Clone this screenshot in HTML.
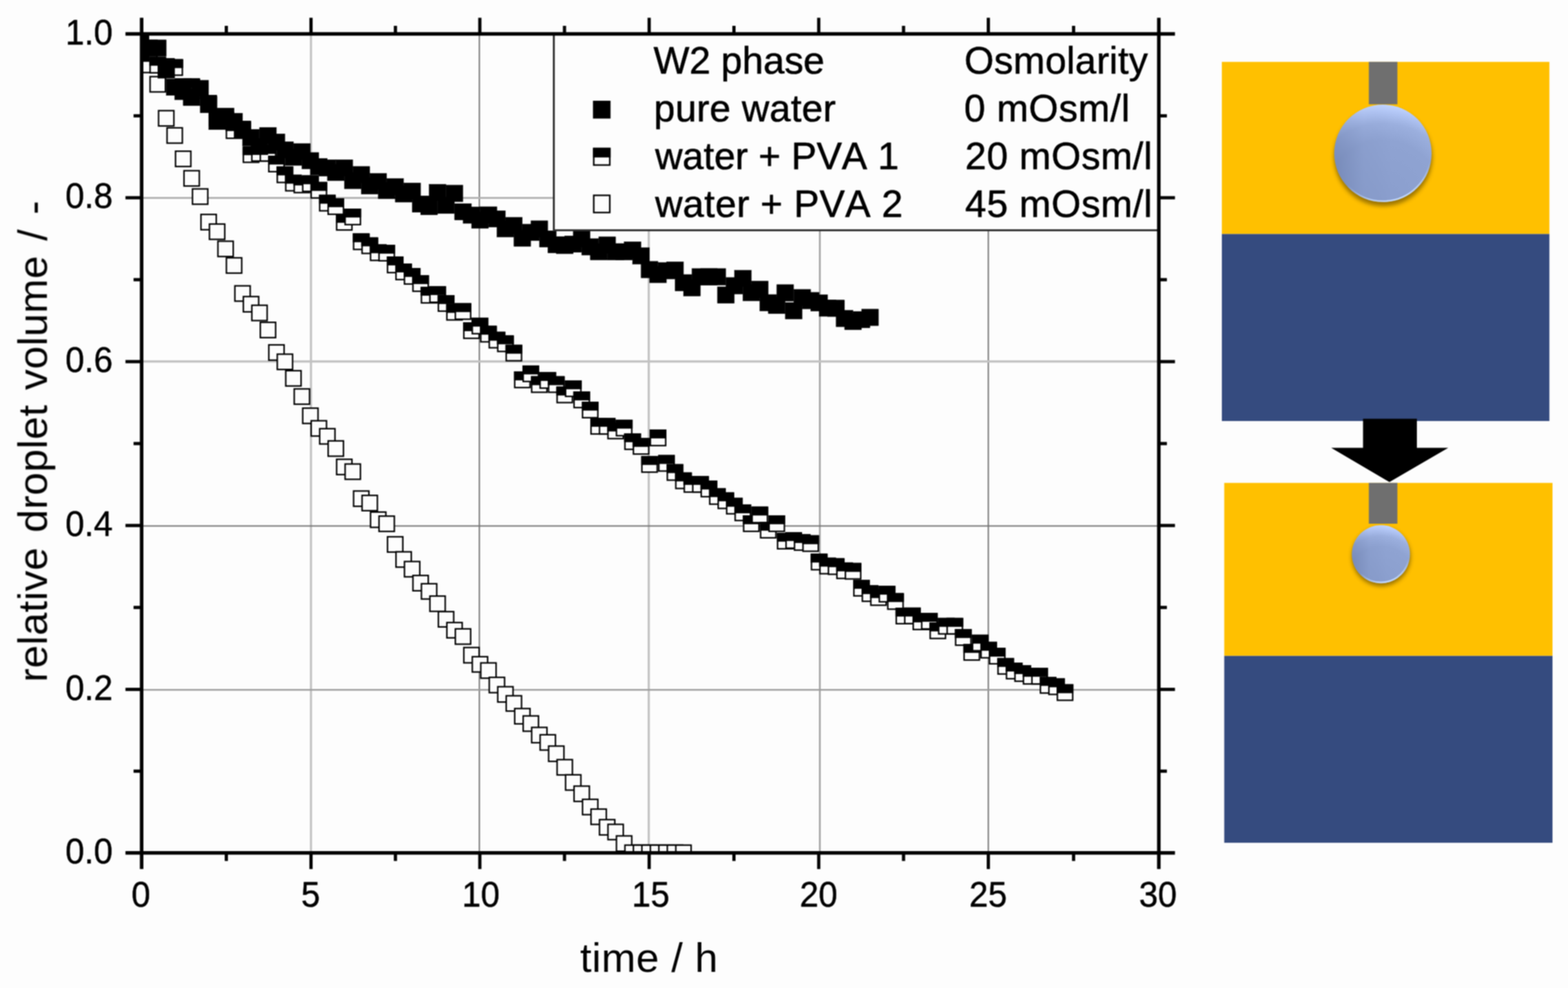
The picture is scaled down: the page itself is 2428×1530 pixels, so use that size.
<!DOCTYPE html>
<html lang="en"><head><meta charset="utf-8"><title>Relative droplet volume over time</title>
<style>
html,body{margin:0;padding:0;background:#fdfdfd;}
body{width:2428px;height:1530px;overflow:hidden;}
svg{display:block;}
text{font-family:"Liberation Sans",Arial,Helvetica,sans-serif;fill:#000;stroke:#000;stroke-width:0.7px;stroke-linejoin:round;font-kerning:none;}
.tk{font-size:52.8px;stroke-width:0.5px;}
.lg{font-size:58.8px;}
.ti{font-size:63.8px;stroke-width:0;stroke:none;}
</style></head><body>
<svg width="2428" height="1530" viewBox="0 0 2428 1530">
<defs>
<clipPath id="plot"><rect x="219.3" y="52.5" width="1575.1" height="1268.3"/></clipPath>
<radialGradient id="drop" cx="0.5" cy="0.97" r="0.97" fx="0.5" fy="0.97"><stop offset="0" stop-color="#8a9ecd"/><stop offset="0.62" stop-color="#8fa3d2"/><stop offset="0.8" stop-color="#9bafde"/><stop offset="0.93" stop-color="#b3c7f6"/><stop offset="1" stop-color="#c3d6ff"/></radialGradient>
<linearGradient id="dside" x1="0" y1="0.5" x2="1" y2="0.5"><stop offset="0" stop-color="#1a2a55" stop-opacity="0.20"/><stop offset="0.3" stop-color="#1a2a55" stop-opacity="0.04"/><stop offset="0.6" stop-color="#1a2a55" stop-opacity="0"/></linearGradient>
<linearGradient id="drim" x1="0.3" y1="0" x2="0.6" y2="1"><stop offset="0" stop-color="#c6dcff" stop-opacity="0"/><stop offset="0.72" stop-color="#c6dcff" stop-opacity="0"/><stop offset="1" stop-color="#c6dcff" stop-opacity="0.95"/></linearGradient>
<filter id="sh" x="-30%" y="-30%" width="160%" height="160%"><feGaussianBlur stdDeviation="3"/></filter>
<filter id="soft" filterUnits="userSpaceOnUse" x="0" y="0" width="2428" height="1530" color-interpolation-filters="sRGB"><feConvolveMatrix order="3" kernelMatrix="1 1.4 1 1.4 1.96 1.4 1 1.4 1" divisor="11.56" edgeMode="duplicate" preserveAlpha="false"/></filter>
</defs>
<rect width="2428" height="1530" fill="#fdfdfd"/>
<g id="all" filter="url(#soft)">
<g fill="none">
<line x1="481.5" y1="52.5" x2="481.5" y2="1320.8" stroke="#c2c2c2" stroke-width="3.4"/>
<line x1="742.3" y1="52.5" x2="742.3" y2="1320.8" stroke="#727272" stroke-width="2"/>
<line x1="1004.6" y1="52.5" x2="1004.6" y2="1320.8" stroke="#c2c2c2" stroke-width="3.4"/>
<line x1="1269.5" y1="52.5" x2="1269.5" y2="1320.8" stroke="#9c9c9c" stroke-width="2.5"/>
<line x1="1530.4" y1="52.5" x2="1530.4" y2="1320.8" stroke="#727272" stroke-width="2"/>
<line x1="219.3" y1="306.6" x2="1794.4" y2="306.6" stroke="#b2b2b2" stroke-width="3"/>
<line x1="219.3" y1="559.7" x2="1794.4" y2="559.7" stroke="#c2c2c2" stroke-width="3.4"/>
<line x1="219.3" y1="814.5" x2="1794.4" y2="814.5" stroke="#727272" stroke-width="2"/>
<line x1="219.3" y1="1068.2" x2="1794.4" y2="1068.2" stroke="#9c9c9c" stroke-width="2.5"/>
</g>
<g clip-path="url(#plot)">
<g fill="#fdfdfd" stroke="#000" stroke-width="2.3">
<rect x="206.15" y="63.15" width="23.7" height="23.7"/>
<rect x="219.28" y="88.65" width="23.7" height="23.7"/>
<rect x="232.41" y="118.65" width="23.7" height="23.7"/>
<rect x="245.54" y="171.35" width="23.7" height="23.7"/>
<rect x="258.67" y="197.95" width="23.7" height="23.7"/>
<rect x="271.8" y="234.15" width="23.7" height="23.7"/>
<rect x="284.93" y="264.35" width="23.7" height="23.7"/>
<rect x="298.06" y="292.55" width="23.7" height="23.7"/>
<rect x="311.19" y="332.05" width="23.7" height="23.7"/>
<rect x="324.32" y="346.95" width="23.7" height="23.7"/>
<rect x="337.45" y="373.55" width="23.7" height="23.7"/>
<rect x="350.58" y="399.25" width="23.7" height="23.7"/>
<rect x="363.71" y="442.65" width="23.7" height="23.7"/>
<rect x="376.84" y="459.25" width="23.7" height="23.7"/>
<rect x="389.97" y="472.75" width="23.7" height="23.7"/>
<rect x="403.1" y="499.15" width="23.7" height="23.7"/>
<rect x="416.23" y="534.05" width="23.7" height="23.7"/>
<rect x="429.36" y="548.45" width="23.7" height="23.7"/>
<rect x="442.49" y="574.05" width="23.7" height="23.7"/>
<rect x="455.62" y="602.25" width="23.7" height="23.7"/>
<rect x="468.75" y="632.05" width="23.7" height="23.7"/>
<rect x="481.88" y="651.55" width="23.7" height="23.7"/>
<rect x="495.01" y="663.85" width="23.7" height="23.7"/>
<rect x="508.14" y="682.75" width="23.7" height="23.7"/>
<rect x="521.27" y="711.25" width="23.7" height="23.7"/>
<rect x="534.4" y="718.55" width="23.7" height="23.7"/>
<rect x="547.53" y="760.35" width="23.7" height="23.7"/>
<rect x="560.66" y="767.15" width="23.7" height="23.7"/>
<rect x="573.79" y="792.95" width="23.7" height="23.7"/>
<rect x="586.92" y="799.25" width="23.7" height="23.7"/>
<rect x="600.05" y="831.25" width="23.7" height="23.7"/>
<rect x="613.18" y="854.55" width="23.7" height="23.7"/>
<rect x="626.31" y="869.55" width="23.7" height="23.7"/>
<rect x="639.44" y="891.15" width="23.7" height="23.7"/>
<rect x="652.57" y="903.95" width="23.7" height="23.7"/>
<rect x="665.7" y="923.05" width="23.7" height="23.7"/>
<rect x="678.83" y="947.15" width="23.7" height="23.7"/>
<rect x="691.96" y="964.05" width="23.7" height="23.7"/>
<rect x="705.09" y="973.85" width="23.7" height="23.7"/>
<rect x="718.22" y="1002.75" width="23.7" height="23.7"/>
<rect x="731.35" y="1016.95" width="23.7" height="23.7"/>
<rect x="744.48" y="1026.55" width="23.7" height="23.7"/>
<rect x="757.61" y="1048.95" width="23.7" height="23.7"/>
<rect x="770.74" y="1063.45" width="23.7" height="23.7"/>
<rect x="783.87" y="1077.45" width="23.7" height="23.7"/>
<rect x="797" y="1097.25" width="23.7" height="23.7"/>
<rect x="810.13" y="1108.65" width="23.7" height="23.7"/>
<rect x="823.26" y="1126.45" width="23.7" height="23.7"/>
<rect x="836.39" y="1137.85" width="23.7" height="23.7"/>
<rect x="849.52" y="1155.35" width="23.7" height="23.7"/>
<rect x="862.65" y="1176.35" width="23.7" height="23.7"/>
<rect x="875.78" y="1199.85" width="23.7" height="23.7"/>
<rect x="888.91" y="1217.35" width="23.7" height="23.7"/>
<rect x="902.04" y="1237.85" width="23.7" height="23.7"/>
<rect x="915.17" y="1252.95" width="23.7" height="23.7"/>
<rect x="928.3" y="1269.25" width="23.7" height="23.7"/>
<rect x="941.43" y="1276.55" width="23.7" height="23.7"/>
<rect x="954.56" y="1294.45" width="23.7" height="23.7"/>
<rect x="967.69" y="1308.75" width="23.7" height="23.7"/>
<rect x="980.82" y="1308.75" width="23.7" height="23.7"/>
<rect x="993.95" y="1308.75" width="23.7" height="23.7"/>
<rect x="1007.08" y="1308.75" width="23.7" height="23.7"/>
<rect x="1020.21" y="1308.75" width="23.7" height="23.7"/>
<rect x="1033.34" y="1308.75" width="23.7" height="23.7"/>
<rect x="1046.47" y="1308.75" width="23.7" height="23.7"/>
</g>
<g>
<rect x="206.15" y="53.65" width="23.7" height="23.7" fill="#fdfdfd" stroke="#000" stroke-width="2.3"/><rect x="205.3" y="52.8" width="25.4" height="13.2" fill="#000" stroke="#000" stroke-width="0.6"/>
<rect x="219.28" y="68.15" width="23.7" height="23.7" fill="#fdfdfd" stroke="#000" stroke-width="2.3"/><rect x="218.43" y="67.3" width="25.4" height="13.2" fill="#000" stroke="#000" stroke-width="0.6"/>
<rect x="232.41" y="89.05" width="23.7" height="23.7" fill="#fdfdfd" stroke="#000" stroke-width="2.3"/><rect x="231.56" y="88.2" width="25.4" height="13.2" fill="#000" stroke="#000" stroke-width="0.6"/>
<rect x="245.54" y="91.15" width="23.7" height="23.7" fill="#fdfdfd" stroke="#000" stroke-width="2.3"/><rect x="244.69" y="90.3" width="25.4" height="13.2" fill="#000" stroke="#000" stroke-width="0.6"/>
<rect x="258.67" y="92.75" width="23.7" height="23.7" fill="#fdfdfd" stroke="#000" stroke-width="2.3"/><rect x="257.82" y="91.9" width="25.4" height="13.2" fill="#000" stroke="#000" stroke-width="0.6"/>
<rect x="271.8" y="122.55" width="23.7" height="23.7" fill="#fdfdfd" stroke="#000" stroke-width="2.3"/><rect x="270.95" y="121.7" width="25.4" height="13.2" fill="#000" stroke="#000" stroke-width="0.6"/>
<rect x="284.93" y="122.55" width="23.7" height="23.7" fill="#fdfdfd" stroke="#000" stroke-width="2.3"/><rect x="284.08" y="121.7" width="25.4" height="13.2" fill="#000" stroke="#000" stroke-width="0.6"/>
<rect x="298.06" y="128.15" width="23.7" height="23.7" fill="#fdfdfd" stroke="#000" stroke-width="2.3"/><rect x="297.21" y="127.3" width="25.4" height="13.2" fill="#000" stroke="#000" stroke-width="0.6"/>
<rect x="311.19" y="148.15" width="23.7" height="23.7" fill="#fdfdfd" stroke="#000" stroke-width="2.3"/><rect x="310.34" y="147.3" width="25.4" height="13.2" fill="#000" stroke="#000" stroke-width="0.6"/>
<rect x="324.32" y="170.15" width="23.7" height="23.7" fill="#fdfdfd" stroke="#000" stroke-width="2.3"/><rect x="323.47" y="169.3" width="25.4" height="13.2" fill="#000" stroke="#000" stroke-width="0.6"/>
<rect x="337.45" y="174.15" width="23.7" height="23.7" fill="#fdfdfd" stroke="#000" stroke-width="2.3"/><rect x="336.6" y="173.3" width="25.4" height="13.2" fill="#000" stroke="#000" stroke-width="0.6"/>
<rect x="350.58" y="190.45" width="23.7" height="23.7" fill="#fdfdfd" stroke="#000" stroke-width="2.3"/><rect x="349.73" y="189.6" width="25.4" height="13.2" fill="#000" stroke="#000" stroke-width="0.6"/>
<rect x="363.71" y="188.15" width="23.7" height="23.7" fill="#fdfdfd" stroke="#000" stroke-width="2.3"/><rect x="362.86" y="187.3" width="25.4" height="13.2" fill="#000" stroke="#000" stroke-width="0.6"/>
<rect x="376.84" y="227.65" width="23.7" height="23.7" fill="#fdfdfd" stroke="#000" stroke-width="2.3"/><rect x="375.99" y="226.8" width="25.4" height="13.2" fill="#000" stroke="#000" stroke-width="0.6"/>
<rect x="389.97" y="225.65" width="23.7" height="23.7" fill="#fdfdfd" stroke="#000" stroke-width="2.3"/><rect x="389.12" y="224.8" width="25.4" height="13.2" fill="#000" stroke="#000" stroke-width="0.6"/>
<rect x="403.1" y="225.65" width="23.7" height="23.7" fill="#fdfdfd" stroke="#000" stroke-width="2.3"/><rect x="402.25" y="224.8" width="25.4" height="13.2" fill="#000" stroke="#000" stroke-width="0.6"/>
<rect x="416.23" y="242.15" width="23.7" height="23.7" fill="#fdfdfd" stroke="#000" stroke-width="2.3"/><rect x="415.38" y="241.3" width="25.4" height="13.2" fill="#000" stroke="#000" stroke-width="0.6"/>
<rect x="429.36" y="258.85" width="23.7" height="23.7" fill="#fdfdfd" stroke="#000" stroke-width="2.3"/><rect x="428.51" y="258" width="25.4" height="13.2" fill="#000" stroke="#000" stroke-width="0.6"/>
<rect x="442.49" y="271.75" width="23.7" height="23.7" fill="#fdfdfd" stroke="#000" stroke-width="2.3"/><rect x="441.64" y="270.9" width="25.4" height="13.2" fill="#000" stroke="#000" stroke-width="0.6"/>
<rect x="455.62" y="274.55" width="23.7" height="23.7" fill="#fdfdfd" stroke="#000" stroke-width="2.3"/><rect x="454.77" y="273.7" width="25.4" height="13.2" fill="#000" stroke="#000" stroke-width="0.6"/>
<rect x="468.75" y="272.65" width="23.7" height="23.7" fill="#fdfdfd" stroke="#000" stroke-width="2.3"/><rect x="467.9" y="271.8" width="25.4" height="13.2" fill="#000" stroke="#000" stroke-width="0.6"/>
<rect x="481.88" y="282.85" width="23.7" height="23.7" fill="#fdfdfd" stroke="#000" stroke-width="2.3"/><rect x="481.03" y="282" width="25.4" height="13.2" fill="#000" stroke="#000" stroke-width="0.6"/>
<rect x="495.01" y="302.75" width="23.7" height="23.7" fill="#fdfdfd" stroke="#000" stroke-width="2.3"/><rect x="494.16" y="301.9" width="25.4" height="13.2" fill="#000" stroke="#000" stroke-width="0.6"/>
<rect x="508.14" y="308.15" width="23.7" height="23.7" fill="#fdfdfd" stroke="#000" stroke-width="2.3"/><rect x="507.29" y="307.3" width="25.4" height="13.2" fill="#000" stroke="#000" stroke-width="0.6"/>
<rect x="521.27" y="332.45" width="23.7" height="23.7" fill="#fdfdfd" stroke="#000" stroke-width="2.3"/><rect x="520.42" y="331.6" width="25.4" height="13.2" fill="#000" stroke="#000" stroke-width="0.6"/>
<rect x="534.4" y="324.15" width="23.7" height="23.7" fill="#fdfdfd" stroke="#000" stroke-width="2.3"/><rect x="533.55" y="323.3" width="25.4" height="13.2" fill="#000" stroke="#000" stroke-width="0.6"/>
<rect x="547.53" y="362.55" width="23.7" height="23.7" fill="#fdfdfd" stroke="#000" stroke-width="2.3"/><rect x="546.68" y="361.7" width="25.4" height="13.2" fill="#000" stroke="#000" stroke-width="0.6"/>
<rect x="560.66" y="368.75" width="23.7" height="23.7" fill="#fdfdfd" stroke="#000" stroke-width="2.3"/><rect x="559.81" y="367.9" width="25.4" height="13.2" fill="#000" stroke="#000" stroke-width="0.6"/>
<rect x="573.79" y="379.55" width="23.7" height="23.7" fill="#fdfdfd" stroke="#000" stroke-width="2.3"/><rect x="572.94" y="378.7" width="25.4" height="13.2" fill="#000" stroke="#000" stroke-width="0.6"/>
<rect x="586.92" y="380.15" width="23.7" height="23.7" fill="#fdfdfd" stroke="#000" stroke-width="2.3"/><rect x="586.07" y="379.3" width="25.4" height="13.2" fill="#000" stroke="#000" stroke-width="0.6"/>
<rect x="600.05" y="398.45" width="23.7" height="23.7" fill="#fdfdfd" stroke="#000" stroke-width="2.3"/><rect x="599.2" y="397.6" width="25.4" height="13.2" fill="#000" stroke="#000" stroke-width="0.6"/>
<rect x="613.18" y="409.25" width="23.7" height="23.7" fill="#fdfdfd" stroke="#000" stroke-width="2.3"/><rect x="612.33" y="408.4" width="25.4" height="13.2" fill="#000" stroke="#000" stroke-width="0.6"/>
<rect x="626.31" y="416.15" width="23.7" height="23.7" fill="#fdfdfd" stroke="#000" stroke-width="2.3"/><rect x="625.46" y="415.3" width="25.4" height="13.2" fill="#000" stroke="#000" stroke-width="0.6"/>
<rect x="639.44" y="427.35" width="23.7" height="23.7" fill="#fdfdfd" stroke="#000" stroke-width="2.3"/><rect x="638.59" y="426.5" width="25.4" height="13.2" fill="#000" stroke="#000" stroke-width="0.6"/>
<rect x="652.57" y="445.35" width="23.7" height="23.7" fill="#fdfdfd" stroke="#000" stroke-width="2.3"/><rect x="651.72" y="444.5" width="25.4" height="13.2" fill="#000" stroke="#000" stroke-width="0.6"/>
<rect x="665.7" y="444.35" width="23.7" height="23.7" fill="#fdfdfd" stroke="#000" stroke-width="2.3"/><rect x="664.85" y="443.5" width="25.4" height="13.2" fill="#000" stroke="#000" stroke-width="0.6"/>
<rect x="678.83" y="458.15" width="23.7" height="23.7" fill="#fdfdfd" stroke="#000" stroke-width="2.3"/><rect x="677.98" y="457.3" width="25.4" height="13.2" fill="#000" stroke="#000" stroke-width="0.6"/>
<rect x="691.96" y="471.75" width="23.7" height="23.7" fill="#fdfdfd" stroke="#000" stroke-width="2.3"/><rect x="691.11" y="470.9" width="25.4" height="13.2" fill="#000" stroke="#000" stroke-width="0.6"/>
<rect x="705.09" y="470.65" width="23.7" height="23.7" fill="#fdfdfd" stroke="#000" stroke-width="2.3"/><rect x="704.24" y="469.8" width="25.4" height="13.2" fill="#000" stroke="#000" stroke-width="0.6"/>
<rect x="718.22" y="500.25" width="23.7" height="23.7" fill="#fdfdfd" stroke="#000" stroke-width="2.3"/><rect x="717.37" y="499.4" width="25.4" height="13.2" fill="#000" stroke="#000" stroke-width="0.6"/>
<rect x="731.35" y="493.05" width="23.7" height="23.7" fill="#fdfdfd" stroke="#000" stroke-width="2.3"/><rect x="730.5" y="492.2" width="25.4" height="13.2" fill="#000" stroke="#000" stroke-width="0.6"/>
<rect x="744.48" y="505.65" width="23.7" height="23.7" fill="#fdfdfd" stroke="#000" stroke-width="2.3"/><rect x="743.63" y="504.8" width="25.4" height="13.2" fill="#000" stroke="#000" stroke-width="0.6"/>
<rect x="757.61" y="514.85" width="23.7" height="23.7" fill="#fdfdfd" stroke="#000" stroke-width="2.3"/><rect x="756.76" y="514" width="25.4" height="13.2" fill="#000" stroke="#000" stroke-width="0.6"/>
<rect x="770.74" y="520.55" width="23.7" height="23.7" fill="#fdfdfd" stroke="#000" stroke-width="2.3"/><rect x="769.89" y="519.7" width="25.4" height="13.2" fill="#000" stroke="#000" stroke-width="0.6"/>
<rect x="783.87" y="534.95" width="23.7" height="23.7" fill="#fdfdfd" stroke="#000" stroke-width="2.3"/><rect x="783.02" y="534.1" width="25.4" height="13.2" fill="#000" stroke="#000" stroke-width="0.6"/>
<rect x="797" y="576.45" width="23.7" height="23.7" fill="#fdfdfd" stroke="#000" stroke-width="2.3"/><rect x="796.15" y="575.6" width="25.4" height="13.2" fill="#000" stroke="#000" stroke-width="0.6"/>
<rect x="810.13" y="567.05" width="23.7" height="23.7" fill="#fdfdfd" stroke="#000" stroke-width="2.3"/><rect x="809.28" y="566.2" width="25.4" height="13.2" fill="#000" stroke="#000" stroke-width="0.6"/>
<rect x="823.26" y="583.75" width="23.7" height="23.7" fill="#fdfdfd" stroke="#000" stroke-width="2.3"/><rect x="822.41" y="582.9" width="25.4" height="13.2" fill="#000" stroke="#000" stroke-width="0.6"/>
<rect x="836.39" y="577.35" width="23.7" height="23.7" fill="#fdfdfd" stroke="#000" stroke-width="2.3"/><rect x="835.54" y="576.5" width="25.4" height="13.2" fill="#000" stroke="#000" stroke-width="0.6"/>
<rect x="849.52" y="583.75" width="23.7" height="23.7" fill="#fdfdfd" stroke="#000" stroke-width="2.3"/><rect x="848.67" y="582.9" width="25.4" height="13.2" fill="#000" stroke="#000" stroke-width="0.6"/>
<rect x="862.65" y="599.75" width="23.7" height="23.7" fill="#fdfdfd" stroke="#000" stroke-width="2.3"/><rect x="861.8" y="598.9" width="25.4" height="13.2" fill="#000" stroke="#000" stroke-width="0.6"/>
<rect x="875.78" y="590.15" width="23.7" height="23.7" fill="#fdfdfd" stroke="#000" stroke-width="2.3"/><rect x="874.93" y="589.3" width="25.4" height="13.2" fill="#000" stroke="#000" stroke-width="0.6"/>
<rect x="888.91" y="607.45" width="23.7" height="23.7" fill="#fdfdfd" stroke="#000" stroke-width="2.3"/><rect x="888.06" y="606.6" width="25.4" height="13.2" fill="#000" stroke="#000" stroke-width="0.6"/>
<rect x="902.04" y="623.15" width="23.7" height="23.7" fill="#fdfdfd" stroke="#000" stroke-width="2.3"/><rect x="901.19" y="622.3" width="25.4" height="13.2" fill="#000" stroke="#000" stroke-width="0.6"/>
<rect x="915.17" y="648.35" width="23.7" height="23.7" fill="#fdfdfd" stroke="#000" stroke-width="2.3"/><rect x="914.32" y="647.5" width="25.4" height="13.2" fill="#000" stroke="#000" stroke-width="0.6"/>
<rect x="928.3" y="648.35" width="23.7" height="23.7" fill="#fdfdfd" stroke="#000" stroke-width="2.3"/><rect x="927.45" y="647.5" width="25.4" height="13.2" fill="#000" stroke="#000" stroke-width="0.6"/>
<rect x="941.43" y="655.55" width="23.7" height="23.7" fill="#fdfdfd" stroke="#000" stroke-width="2.3"/><rect x="940.58" y="654.7" width="25.4" height="13.2" fill="#000" stroke="#000" stroke-width="0.6"/>
<rect x="954.56" y="651.05" width="23.7" height="23.7" fill="#fdfdfd" stroke="#000" stroke-width="2.3"/><rect x="953.71" y="650.2" width="25.4" height="13.2" fill="#000" stroke="#000" stroke-width="0.6"/>
<rect x="967.69" y="672.15" width="23.7" height="23.7" fill="#fdfdfd" stroke="#000" stroke-width="2.3"/><rect x="966.84" y="671.3" width="25.4" height="13.2" fill="#000" stroke="#000" stroke-width="0.6"/>
<rect x="980.82" y="679.45" width="23.7" height="23.7" fill="#fdfdfd" stroke="#000" stroke-width="2.3"/><rect x="979.97" y="678.6" width="25.4" height="13.2" fill="#000" stroke="#000" stroke-width="0.6"/>
<rect x="993.95" y="707.45" width="23.7" height="23.7" fill="#fdfdfd" stroke="#000" stroke-width="2.3"/><rect x="993.1" y="706.6" width="25.4" height="13.2" fill="#000" stroke="#000" stroke-width="0.6"/>
<rect x="1007.08" y="666.35" width="23.7" height="23.7" fill="#fdfdfd" stroke="#000" stroke-width="2.3"/><rect x="1006.23" y="665.5" width="25.4" height="13.2" fill="#000" stroke="#000" stroke-width="0.6"/>
<rect x="1020.21" y="705.75" width="23.7" height="23.7" fill="#fdfdfd" stroke="#000" stroke-width="2.3"/><rect x="1019.36" y="704.9" width="25.4" height="13.2" fill="#000" stroke="#000" stroke-width="0.6"/>
<rect x="1033.34" y="719.85" width="23.7" height="23.7" fill="#fdfdfd" stroke="#000" stroke-width="2.3"/><rect x="1032.49" y="719" width="25.4" height="13.2" fill="#000" stroke="#000" stroke-width="0.6"/>
<rect x="1046.47" y="732.75" width="23.7" height="23.7" fill="#fdfdfd" stroke="#000" stroke-width="2.3"/><rect x="1045.62" y="731.9" width="25.4" height="13.2" fill="#000" stroke="#000" stroke-width="0.6"/>
<rect x="1059.6" y="738.35" width="23.7" height="23.7" fill="#fdfdfd" stroke="#000" stroke-width="2.3"/><rect x="1058.75" y="737.5" width="25.4" height="13.2" fill="#000" stroke="#000" stroke-width="0.6"/>
<rect x="1072.73" y="738.35" width="23.7" height="23.7" fill="#fdfdfd" stroke="#000" stroke-width="2.3"/><rect x="1071.88" y="737.5" width="25.4" height="13.2" fill="#000" stroke="#000" stroke-width="0.6"/>
<rect x="1085.86" y="745.45" width="23.7" height="23.7" fill="#fdfdfd" stroke="#000" stroke-width="2.3"/><rect x="1085.01" y="744.6" width="25.4" height="13.2" fill="#000" stroke="#000" stroke-width="0.6"/>
<rect x="1098.99" y="757.05" width="23.7" height="23.7" fill="#fdfdfd" stroke="#000" stroke-width="2.3"/><rect x="1098.14" y="756.2" width="25.4" height="13.2" fill="#000" stroke="#000" stroke-width="0.6"/>
<rect x="1112.12" y="763.65" width="23.7" height="23.7" fill="#fdfdfd" stroke="#000" stroke-width="2.3"/><rect x="1111.27" y="762.8" width="25.4" height="13.2" fill="#000" stroke="#000" stroke-width="0.6"/>
<rect x="1125.25" y="771.95" width="23.7" height="23.7" fill="#fdfdfd" stroke="#000" stroke-width="2.3"/><rect x="1124.4" y="771.1" width="25.4" height="13.2" fill="#000" stroke="#000" stroke-width="0.6"/>
<rect x="1138.38" y="782.35" width="23.7" height="23.7" fill="#fdfdfd" stroke="#000" stroke-width="2.3"/><rect x="1137.53" y="781.5" width="25.4" height="13.2" fill="#000" stroke="#000" stroke-width="0.6"/>
<rect x="1151.51" y="799.15" width="23.7" height="23.7" fill="#fdfdfd" stroke="#000" stroke-width="2.3"/><rect x="1150.66" y="798.3" width="25.4" height="13.2" fill="#000" stroke="#000" stroke-width="0.6"/>
<rect x="1164.64" y="785.65" width="23.7" height="23.7" fill="#fdfdfd" stroke="#000" stroke-width="2.3"/><rect x="1163.79" y="784.8" width="25.4" height="13.2" fill="#000" stroke="#000" stroke-width="0.6"/>
<rect x="1177.77" y="809.15" width="23.7" height="23.7" fill="#fdfdfd" stroke="#000" stroke-width="2.3"/><rect x="1176.92" y="808.3" width="25.4" height="13.2" fill="#000" stroke="#000" stroke-width="0.6"/>
<rect x="1190.9" y="799.15" width="23.7" height="23.7" fill="#fdfdfd" stroke="#000" stroke-width="2.3"/><rect x="1190.05" y="798.3" width="25.4" height="13.2" fill="#000" stroke="#000" stroke-width="0.6"/>
<rect x="1204.03" y="826.15" width="23.7" height="23.7" fill="#fdfdfd" stroke="#000" stroke-width="2.3"/><rect x="1203.18" y="825.3" width="25.4" height="13.2" fill="#000" stroke="#000" stroke-width="0.6"/>
<rect x="1217.16" y="825.15" width="23.7" height="23.7" fill="#fdfdfd" stroke="#000" stroke-width="2.3"/><rect x="1216.31" y="824.3" width="25.4" height="13.2" fill="#000" stroke="#000" stroke-width="0.6"/>
<rect x="1230.29" y="828.25" width="23.7" height="23.7" fill="#fdfdfd" stroke="#000" stroke-width="2.3"/><rect x="1229.44" y="827.4" width="25.4" height="13.2" fill="#000" stroke="#000" stroke-width="0.6"/>
<rect x="1243.42" y="829.95" width="23.7" height="23.7" fill="#fdfdfd" stroke="#000" stroke-width="2.3"/><rect x="1242.57" y="829.1" width="25.4" height="13.2" fill="#000" stroke="#000" stroke-width="0.6"/>
<rect x="1256.55" y="858.55" width="23.7" height="23.7" fill="#fdfdfd" stroke="#000" stroke-width="2.3"/><rect x="1255.7" y="857.7" width="25.4" height="13.2" fill="#000" stroke="#000" stroke-width="0.6"/>
<rect x="1269.68" y="864.75" width="23.7" height="23.7" fill="#fdfdfd" stroke="#000" stroke-width="2.3"/><rect x="1268.83" y="863.9" width="25.4" height="13.2" fill="#000" stroke="#000" stroke-width="0.6"/>
<rect x="1282.81" y="865.65" width="23.7" height="23.7" fill="#fdfdfd" stroke="#000" stroke-width="2.3"/><rect x="1281.96" y="864.8" width="25.4" height="13.2" fill="#000" stroke="#000" stroke-width="0.6"/>
<rect x="1295.94" y="872.05" width="23.7" height="23.7" fill="#fdfdfd" stroke="#000" stroke-width="2.3"/><rect x="1295.09" y="871.2" width="25.4" height="13.2" fill="#000" stroke="#000" stroke-width="0.6"/>
<rect x="1309.07" y="872.85" width="23.7" height="23.7" fill="#fdfdfd" stroke="#000" stroke-width="2.3"/><rect x="1308.22" y="872" width="25.4" height="13.2" fill="#000" stroke="#000" stroke-width="0.6"/>
<rect x="1322.2" y="899.05" width="23.7" height="23.7" fill="#fdfdfd" stroke="#000" stroke-width="2.3"/><rect x="1321.35" y="898.2" width="25.4" height="13.2" fill="#000" stroke="#000" stroke-width="0.6"/>
<rect x="1335.33" y="907.45" width="23.7" height="23.7" fill="#fdfdfd" stroke="#000" stroke-width="2.3"/><rect x="1334.48" y="906.6" width="25.4" height="13.2" fill="#000" stroke="#000" stroke-width="0.6"/>
<rect x="1348.46" y="913.55" width="23.7" height="23.7" fill="#fdfdfd" stroke="#000" stroke-width="2.3"/><rect x="1347.61" y="912.7" width="25.4" height="13.2" fill="#000" stroke="#000" stroke-width="0.6"/>
<rect x="1361.59" y="908.25" width="23.7" height="23.7" fill="#fdfdfd" stroke="#000" stroke-width="2.3"/><rect x="1360.74" y="907.4" width="25.4" height="13.2" fill="#000" stroke="#000" stroke-width="0.6"/>
<rect x="1374.72" y="919.65" width="23.7" height="23.7" fill="#fdfdfd" stroke="#000" stroke-width="2.3"/><rect x="1373.87" y="918.8" width="25.4" height="13.2" fill="#000" stroke="#000" stroke-width="0.6"/>
<rect x="1387.85" y="942.15" width="23.7" height="23.7" fill="#fdfdfd" stroke="#000" stroke-width="2.3"/><rect x="1387" y="941.3" width="25.4" height="13.2" fill="#000" stroke="#000" stroke-width="0.6"/>
<rect x="1400.98" y="941.95" width="23.7" height="23.7" fill="#fdfdfd" stroke="#000" stroke-width="2.3"/><rect x="1400.13" y="941.1" width="25.4" height="13.2" fill="#000" stroke="#000" stroke-width="0.6"/>
<rect x="1414.11" y="951.15" width="23.7" height="23.7" fill="#fdfdfd" stroke="#000" stroke-width="2.3"/><rect x="1413.26" y="950.3" width="25.4" height="13.2" fill="#000" stroke="#000" stroke-width="0.6"/>
<rect x="1427.24" y="950.25" width="23.7" height="23.7" fill="#fdfdfd" stroke="#000" stroke-width="2.3"/><rect x="1426.39" y="949.4" width="25.4" height="13.2" fill="#000" stroke="#000" stroke-width="0.6"/>
<rect x="1440.37" y="965.05" width="23.7" height="23.7" fill="#fdfdfd" stroke="#000" stroke-width="2.3"/><rect x="1439.52" y="964.2" width="25.4" height="13.2" fill="#000" stroke="#000" stroke-width="0.6"/>
<rect x="1453.5" y="957.95" width="23.7" height="23.7" fill="#fdfdfd" stroke="#000" stroke-width="2.3"/><rect x="1452.65" y="957.1" width="25.4" height="13.2" fill="#000" stroke="#000" stroke-width="0.6"/>
<rect x="1466.63" y="957.95" width="23.7" height="23.7" fill="#fdfdfd" stroke="#000" stroke-width="2.3"/><rect x="1465.78" y="957.1" width="25.4" height="13.2" fill="#000" stroke="#000" stroke-width="0.6"/>
<rect x="1479.76" y="975.45" width="23.7" height="23.7" fill="#fdfdfd" stroke="#000" stroke-width="2.3"/><rect x="1478.91" y="974.6" width="25.4" height="13.2" fill="#000" stroke="#000" stroke-width="0.6"/>
<rect x="1492.89" y="998.45" width="23.7" height="23.7" fill="#fdfdfd" stroke="#000" stroke-width="2.3"/><rect x="1492.04" y="997.6" width="25.4" height="13.2" fill="#000" stroke="#000" stroke-width="0.6"/>
<rect x="1506.02" y="983.95" width="23.7" height="23.7" fill="#fdfdfd" stroke="#000" stroke-width="2.3"/><rect x="1505.17" y="983.1" width="25.4" height="13.2" fill="#000" stroke="#000" stroke-width="0.6"/>
<rect x="1519.15" y="994.95" width="23.7" height="23.7" fill="#fdfdfd" stroke="#000" stroke-width="2.3"/><rect x="1518.3" y="994.1" width="25.4" height="13.2" fill="#000" stroke="#000" stroke-width="0.6"/>
<rect x="1532.28" y="1004.25" width="23.7" height="23.7" fill="#fdfdfd" stroke="#000" stroke-width="2.3"/><rect x="1531.43" y="1003.4" width="25.4" height="13.2" fill="#000" stroke="#000" stroke-width="0.6"/>
<rect x="1545.41" y="1020.05" width="23.7" height="23.7" fill="#fdfdfd" stroke="#000" stroke-width="2.3"/><rect x="1544.56" y="1019.2" width="25.4" height="13.2" fill="#000" stroke="#000" stroke-width="0.6"/>
<rect x="1558.54" y="1027.35" width="23.7" height="23.7" fill="#fdfdfd" stroke="#000" stroke-width="2.3"/><rect x="1557.69" y="1026.5" width="25.4" height="13.2" fill="#000" stroke="#000" stroke-width="0.6"/>
<rect x="1571.67" y="1031.25" width="23.7" height="23.7" fill="#fdfdfd" stroke="#000" stroke-width="2.3"/><rect x="1570.82" y="1030.4" width="25.4" height="13.2" fill="#000" stroke="#000" stroke-width="0.6"/>
<rect x="1584.8" y="1035.45" width="23.7" height="23.7" fill="#fdfdfd" stroke="#000" stroke-width="2.3"/><rect x="1583.95" y="1034.6" width="25.4" height="13.2" fill="#000" stroke="#000" stroke-width="0.6"/>
<rect x="1597.93" y="1035.45" width="23.7" height="23.7" fill="#fdfdfd" stroke="#000" stroke-width="2.3"/><rect x="1597.08" y="1034.6" width="25.4" height="13.2" fill="#000" stroke="#000" stroke-width="0.6"/>
<rect x="1611.06" y="1049.55" width="23.7" height="23.7" fill="#fdfdfd" stroke="#000" stroke-width="2.3"/><rect x="1610.21" y="1048.7" width="25.4" height="13.2" fill="#000" stroke="#000" stroke-width="0.6"/>
<rect x="1624.19" y="1051.65" width="23.7" height="23.7" fill="#fdfdfd" stroke="#000" stroke-width="2.3"/><rect x="1623.34" y="1050.8" width="25.4" height="13.2" fill="#000" stroke="#000" stroke-width="0.6"/>
<rect x="1637.32" y="1060.75" width="23.7" height="23.7" fill="#fdfdfd" stroke="#000" stroke-width="2.3"/><rect x="1636.47" y="1059.9" width="25.4" height="13.2" fill="#000" stroke="#000" stroke-width="0.6"/>
</g>
<g fill="#000" stroke="#000" stroke-width="0.6">
<rect x="205" y="69.9" width="26" height="25.4"/>
<rect x="218.13" y="61.8" width="26" height="25.4"/>
<rect x="231.26" y="61.8" width="26" height="25.4"/>
<rect x="244.39" y="95.7" width="26" height="25.4"/>
<rect x="257.52" y="122.3" width="26" height="25.4"/>
<rect x="270.65" y="128.9" width="26" height="25.4"/>
<rect x="283.78" y="138.1" width="26" height="25.4"/>
<rect x="296.91" y="124.2" width="26" height="25.4"/>
<rect x="310.04" y="149.3" width="26" height="25.4"/>
<rect x="323.17" y="175.3" width="26" height="25.4"/>
<rect x="336.3" y="167.3" width="26" height="25.4"/>
<rect x="349.43" y="175.3" width="26" height="25.4"/>
<rect x="362.56" y="189.3" width="26" height="25.4"/>
<rect x="375.69" y="200.3" width="26" height="25.4"/>
<rect x="388.82" y="214.3" width="26" height="25.4"/>
<rect x="401.95" y="197.3" width="26" height="25.4"/>
<rect x="415.08" y="207.3" width="26" height="25.4"/>
<rect x="428.21" y="219.5" width="26" height="25.4"/>
<rect x="441.34" y="230.7" width="26" height="25.4"/>
<rect x="454.47" y="222.2" width="26" height="25.4"/>
<rect x="467.6" y="236.1" width="26" height="25.4"/>
<rect x="480.73" y="245.3" width="26" height="25.4"/>
<rect x="493.86" y="247.4" width="26" height="25.4"/>
<rect x="506.99" y="254.4" width="26" height="25.4"/>
<rect x="520.12" y="247.4" width="26" height="25.4"/>
<rect x="533.25" y="266.8" width="26" height="25.4"/>
<rect x="546.38" y="257.8" width="26" height="25.4"/>
<rect x="559.51" y="275.1" width="26" height="25.4"/>
<rect x="572.64" y="268.6" width="26" height="25.4"/>
<rect x="585.77" y="282.4" width="26" height="25.4"/>
<rect x="598.9" y="276.5" width="26" height="25.4"/>
<rect x="612.03" y="287.6" width="26" height="25.4"/>
<rect x="625.16" y="283.3" width="26" height="25.4"/>
<rect x="638.29" y="303.3" width="26" height="25.4"/>
<rect x="651.42" y="307.3" width="26" height="25.4"/>
<rect x="664.55" y="285.4" width="26" height="25.4"/>
<rect x="677.68" y="305.2" width="26" height="25.4"/>
<rect x="690.81" y="286.8" width="26" height="25.4"/>
<rect x="703.94" y="315.3" width="26" height="25.4"/>
<rect x="717.07" y="320.5" width="26" height="25.4"/>
<rect x="730.2" y="328.1" width="26" height="25.4"/>
<rect x="743.33" y="320.1" width="26" height="25.4"/>
<rect x="756.46" y="326.3" width="26" height="25.4"/>
<rect x="769.59" y="341.6" width="26" height="25.4"/>
<rect x="782.72" y="336.7" width="26" height="25.4"/>
<rect x="795.85" y="356.1" width="26" height="25.4"/>
<rect x="808.98" y="347.1" width="26" height="25.4"/>
<rect x="822.11" y="341.9" width="26" height="25.4"/>
<rect x="835.24" y="357.3" width="26" height="25.4"/>
<rect x="848.37" y="366.3" width="26" height="25.4"/>
<rect x="861.5" y="367.5" width="26" height="25.4"/>
<rect x="874.63" y="365.3" width="26" height="25.4"/>
<rect x="887.76" y="357.4" width="26" height="25.4"/>
<rect x="900.89" y="369.6" width="26" height="25.4"/>
<rect x="914.02" y="377.1" width="26" height="25.4"/>
<rect x="927.15" y="366.8" width="26" height="25.4"/>
<rect x="940.28" y="377.2" width="26" height="25.4"/>
<rect x="953.41" y="377.2" width="26" height="25.4"/>
<rect x="966.54" y="374.4" width="26" height="25.4"/>
<rect x="979.67" y="383.6" width="26" height="25.4"/>
<rect x="992.8" y="404.8" width="26" height="25.4"/>
<rect x="1005.93" y="412.5" width="26" height="25.4"/>
<rect x="1019.06" y="406.6" width="26" height="25.4"/>
<rect x="1032.19" y="405.5" width="26" height="25.4"/>
<rect x="1045.32" y="425.1" width="26" height="25.4"/>
<rect x="1058.45" y="432.9" width="26" height="25.4"/>
<rect x="1071.58" y="415.9" width="26" height="25.4"/>
<rect x="1084.71" y="415.9" width="26" height="25.4"/>
<rect x="1097.84" y="415.9" width="26" height="25.4"/>
<rect x="1110.97" y="444.1" width="26" height="25.4"/>
<rect x="1124.1" y="429.8" width="26" height="25.4"/>
<rect x="1137.23" y="418.6" width="26" height="25.4"/>
<rect x="1150.36" y="440.5" width="26" height="25.4"/>
<rect x="1163.49" y="435.2" width="26" height="25.4"/>
<rect x="1176.62" y="456.1" width="26" height="25.4"/>
<rect x="1189.75" y="460.3" width="26" height="25.4"/>
<rect x="1202.88" y="440.8" width="26" height="25.4"/>
<rect x="1216.01" y="468.6" width="26" height="25.4"/>
<rect x="1229.14" y="448.1" width="26" height="25.4"/>
<rect x="1242.27" y="452.8" width="26" height="25.4"/>
<rect x="1255.4" y="456.4" width="26" height="25.4"/>
<rect x="1268.53" y="464.5" width="26" height="25.4"/>
<rect x="1281.66" y="464.7" width="26" height="25.4"/>
<rect x="1294.79" y="480.6" width="26" height="25.4"/>
<rect x="1307.92" y="485.2" width="26" height="25.4"/>
<rect x="1321.05" y="482.3" width="26" height="25.4"/>
<rect x="1334.18" y="478.8" width="26" height="25.4"/>
</g>
</g>
<rect x="857.6" y="52.5" width="936.8" height="304.1" fill="#fdfdfd" stroke="#2e2e2e" stroke-width="3"/>
<rect x="918.2" y="156" width="27.2" height="27.6" fill="#000"/>
<rect x="919.4" y="230" width="24.8" height="25.6" fill="#fdfdfd" stroke="#000" stroke-width="2.4"/>
<rect x="918.2" y="228.8" width="27.2" height="15" fill="#000"/>
<rect x="919.4" y="302.5" width="24.8" height="26.6" fill="#fdfdfd" stroke="#000" stroke-width="2.4"/>
<text class="lg" x="1012" y="114">W2 phase</text>
<text class="lg" x="1012.6" y="188" textLength="281.6" lengthAdjust="spacing">pure water</text>
<text class="lg" x="1014.4" y="262.3">water + PVA 1</text>
<text class="lg" x="1014.4" y="336" textLength="383.6" lengthAdjust="spacing">water + PVA 2</text>
<text class="lg" x="1493.2" y="114" textLength="284.2" lengthAdjust="spacing">Osmolarity</text>
<text class="lg" x="1493" y="188" textLength="256.4" lengthAdjust="spacing">0 mOsm/l</text>
<text class="lg" x="1494.6" y="262.3" textLength="289.6" lengthAdjust="spacing">20 mOsm/l</text>
<text class="lg" x="1494.6" y="336" textLength="289.6" lengthAdjust="spacing">45 mOsm/l</text>
<g stroke="#000" stroke-width="5.5" fill="none" stroke-linecap="butt">
<line x1="194.3" y1="52.5" x2="1819.4" y2="52.5"/>
<line x1="194.3" y1="1320.8" x2="1819.4" y2="1320.8"/>
<line x1="219.3" y1="27.5" x2="219.3" y2="1345.8"/>
<line x1="1794.4" y1="27.5" x2="1794.4" y2="1345.8"/>
</g>
<g stroke="#000" stroke-width="5" fill="none">
<line x1="481.6" y1="27.5" x2="481.6" y2="52.5"/>
<line x1="481.6" y1="1320.8" x2="481.6" y2="1345.8"/>
<line x1="743" y1="27.5" x2="743" y2="52.5"/>
<line x1="743" y1="1320.8" x2="743" y2="1345.8"/>
<line x1="1005.2" y1="27.5" x2="1005.2" y2="52.5"/>
<line x1="1005.2" y1="1320.8" x2="1005.2" y2="1345.8"/>
<line x1="1267.8" y1="27.5" x2="1267.8" y2="52.5"/>
<line x1="1267.8" y1="1320.8" x2="1267.8" y2="1345.8"/>
<line x1="1530.4" y1="27.5" x2="1530.4" y2="52.5"/>
<line x1="1530.4" y1="1320.8" x2="1530.4" y2="1345.8"/>
<line x1="350.45" y1="40" x2="350.45" y2="52.5"/>
<line x1="350.45" y1="1320.8" x2="350.45" y2="1333.3"/>
<line x1="612.3" y1="40" x2="612.3" y2="52.5"/>
<line x1="612.3" y1="1320.8" x2="612.3" y2="1333.3"/>
<line x1="874.1" y1="40" x2="874.1" y2="52.5"/>
<line x1="874.1" y1="1320.8" x2="874.1" y2="1333.3"/>
<line x1="1136.5" y1="40" x2="1136.5" y2="52.5"/>
<line x1="1136.5" y1="1320.8" x2="1136.5" y2="1333.3"/>
<line x1="1399.1" y1="40" x2="1399.1" y2="52.5"/>
<line x1="1399.1" y1="1320.8" x2="1399.1" y2="1333.3"/>
<line x1="1662.4" y1="40" x2="1662.4" y2="52.5"/>
<line x1="1662.4" y1="1320.8" x2="1662.4" y2="1333.3"/>
<line x1="194.3" y1="306.2" x2="219.3" y2="306.2"/>
<line x1="1794.4" y1="306.2" x2="1819.4" y2="306.2"/>
<line x1="194.3" y1="560" x2="219.3" y2="560"/>
<line x1="1794.4" y1="560" x2="1819.4" y2="560"/>
<line x1="194.3" y1="813.8" x2="219.3" y2="813.8"/>
<line x1="1794.4" y1="813.8" x2="1819.4" y2="813.8"/>
<line x1="194.3" y1="1067.6" x2="219.3" y2="1067.6"/>
<line x1="1794.4" y1="1067.6" x2="1819.4" y2="1067.6"/>
<line x1="206.8" y1="179.35" x2="219.3" y2="179.35"/>
<line x1="1794.4" y1="179.35" x2="1806.9" y2="179.35"/>
<line x1="206.8" y1="433.1" x2="219.3" y2="433.1"/>
<line x1="1794.4" y1="433.1" x2="1806.9" y2="433.1"/>
<line x1="206.8" y1="686.9" x2="219.3" y2="686.9"/>
<line x1="1794.4" y1="686.9" x2="1806.9" y2="686.9"/>
<line x1="206.8" y1="940.7" x2="219.3" y2="940.7"/>
<line x1="1794.4" y1="940.7" x2="1806.9" y2="940.7"/>
<line x1="206.8" y1="1194.2" x2="219.3" y2="1194.2"/>
<line x1="1794.4" y1="1194.2" x2="1806.9" y2="1194.2"/>
</g>
<text class="tk" text-anchor="end" transform="translate(174.6 68.5) scale(1 1.035)">1.0</text>
<text class="tk" text-anchor="end" transform="translate(174.6 322.2) scale(1 1.035)">0.8</text>
<text class="tk" text-anchor="end" transform="translate(174.6 576) scale(1 1.035)">0.6</text>
<text class="tk" text-anchor="end" transform="translate(174.6 829.8) scale(1 1.035)">0.4</text>
<text class="tk" text-anchor="end" transform="translate(174.6 1083.6) scale(1 1.035)">0.2</text>
<text class="tk" text-anchor="end" transform="translate(174.6 1336.8) scale(1 1.035)">0.0</text>
<text class="tk" text-anchor="middle" transform="translate(218.2 1404.3) scale(1 1.035)">0</text>
<text class="tk" text-anchor="middle" transform="translate(481 1404.3) scale(1 1.035)">5</text>
<text class="tk" text-anchor="middle" transform="translate(744.6 1404.3) scale(1 1.035)">10</text>
<text class="tk" text-anchor="middle" transform="translate(1007.5 1404.3) scale(1 1.035)">15</text>
<text class="tk" text-anchor="middle" transform="translate(1267.6 1404.3) scale(1 1.035)">20</text>
<text class="tk" text-anchor="middle" transform="translate(1530 1404.3) scale(1 1.035)">25</text>
<text class="tk" text-anchor="middle" transform="translate(1793 1404.3) scale(1 1.035)">30</text>
<text class="ti" x="898.2" y="1505.4" textLength="213.4" lengthAdjust="spacing">time / h</text>
<text class="ti" transform="translate(72.6 1056.4) rotate(-90)" style="word-spacing:4.6px;letter-spacing:0.42px">relative droplet volume / -</text>
<rect x="1892" y="95.8" width="507.2" height="266.6" fill="#ffc000"/>
<rect x="1892" y="362.4" width="507.2" height="289.6" fill="#354b7f"/>
<rect x="2119.6" y="95.8" width="44.2" height="65.7" fill="#6f6f6f"/>
<circle cx="2141.9" cy="243.42" r="75.9" fill="#3a2a00" opacity="0.5" filter="url(#sh)"/>
<circle cx="2141.4" cy="237.4" r="75.4" fill="url(#drop)"/>
<circle cx="2141.4" cy="237.4" r="75.4" fill="url(#dside)"/>
<circle cx="2141.4" cy="237.4" r="74.1" fill="none" stroke="url(#drim)" stroke-width="2.6"/>
<rect x="1895.7" y="747.8" width="508.3" height="267.9" fill="#ffc000"/>
<rect x="1895.7" y="1015.7" width="508.3" height="289.4" fill="#354b7f"/>
<rect x="2119.6" y="747.8" width="44.2" height="63.2" fill="#6f6f6f"/>
<circle cx="2138.8" cy="862.4" r="45.5" fill="#3a2a00" opacity="0.5" filter="url(#sh)"/>
<circle cx="2138.3" cy="858.2" r="45" fill="url(#drop)"/>
<circle cx="2138.3" cy="858.2" r="45" fill="url(#dside)"/>
<circle cx="2138.3" cy="858.2" r="43.7" fill="none" stroke="url(#drim)" stroke-width="2.6"/>
<path d="M2110.6 648.5 H2194 V693.4 H2242.6 L2151.5 746.6 L2061.3 693.4 H2110.6 Z" fill="#000"/>
</g>
</svg>
</body></html>
